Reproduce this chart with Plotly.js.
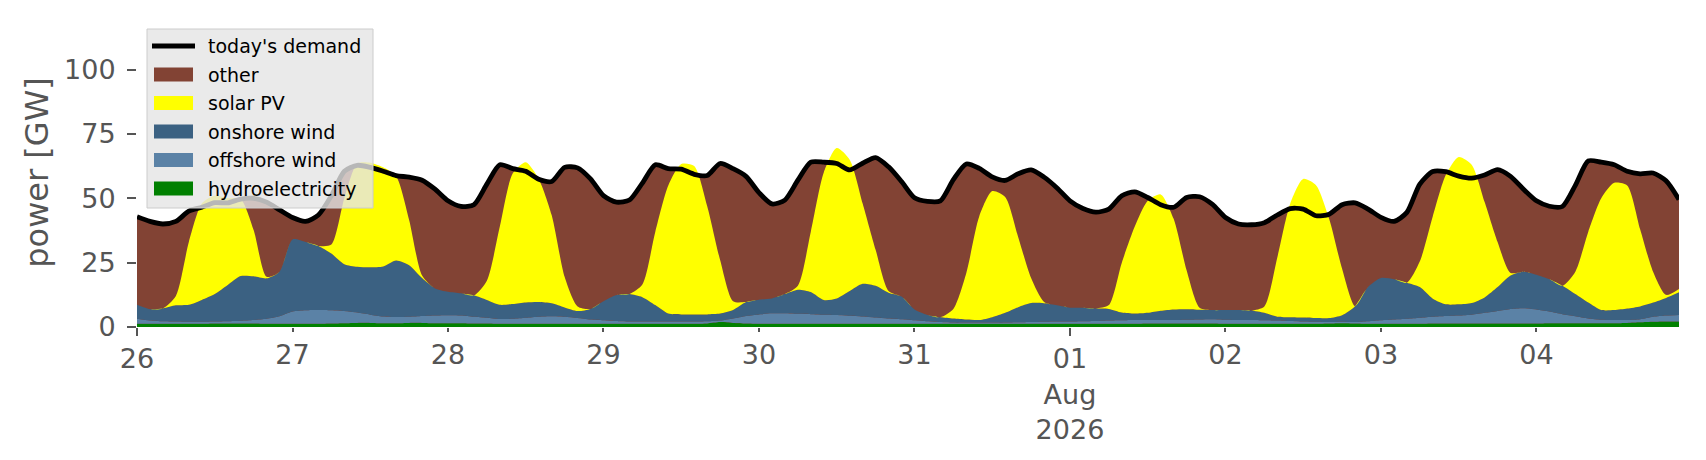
<!DOCTYPE html>
<html>
<head>
<meta charset="utf-8">
<script src="https://cdn.plot.ly/plotly-3.0.1.min.js"></script>
<style>html,body{margin:0;padding:0;background:#fff;}#chart{width:1706px;height:460px;}</style>
</head>
<body>
<div id="chart"></div>
<script>
// 2-hourly values, starting 2026-07-26 00:00
const demand = [
42.8,41.0,40.0,41.0,45.0,46.5,48.3,48.2,49.7,50.0,48.5,45.5,
42.5,41.0,43.5,51.0,60.5,62.8,62.0,60.5,58.8,58.2,57.0,53.5,
49.0,46.8,47.5,55.5,63.0,61.5,60.5,57.4,56.5,62.0,61.8,57.5,
51.0,48.5,49.3,55.9,63.0,61.5,61.3,59.3,58.8,63.5,61.5,58.5,
52.2,47.8,49.3,57.0,64.0,64.0,63.5,61.0,63.6,65.8,62.2,56.5,
50.2,48.8,49.0,57.2,63.3,61.6,58.3,56.9,59.5,61.0,58.2,54.0,
49.0,46.0,44.6,45.8,51.0,52.5,50.3,47.5,46.5,50.3,50.6,47.6,
42.5,40.0,39.7,40.5,43.5,46.0,45.8,43.2,43.8,47.5,48.2,45.8,
42.6,41.0,44.5,55.5,60.4,60.3,58.6,57.8,59.0,61.1,58.5,53.5,
49.0,46.9,46.8,55.0,64.5,64.0,63.0,60.5,59.5,59.8,56.8,49.5
];
const hydro = [
1.3,1.3,1.3,1.3,1.3,1.3,1.4,1.4,1.4,1.4,1.3,1.3,
1.3,1.3,1.3,1.4,1.5,1.6,1.6,1.5,1.5,1.6,1.6,1.5,
1.5,1.5,1.4,1.4,1.3,1.3,1.3,1.3,1.3,1.3,1.3,1.3,
1.3,1.3,1.3,1.3,1.3,1.3,1.3,1.3,1.4,1.9,1.6,1.4,
1.3,1.3,1.3,1.3,1.3,1.3,1.3,1.3,1.3,1.3,1.3,1.3,
1.3,1.3,1.3,1.3,1.3,1.3,1.3,1.3,1.3,1.3,1.3,1.3,
1.3,1.3,1.3,1.3,1.3,1.3,1.4,1.4,1.4,1.4,1.4,1.4,
1.3,1.3,1.3,1.3,1.3,1.3,1.3,1.3,1.4,1.5,1.4,1.3,
1.3,1.3,1.3,1.3,1.4,1.4,1.4,1.4,1.4,1.4,1.4,1.4,
1.4,1.5,1.5,1.5,1.5,1.5,1.5,1.6,1.8,2.0,2.1,2.1
];
const offshoreWind = [
1.9,1.2,0.9,0.8,0.7,0.7,0.7,0.8,1.0,1.3,1.9,2.9,
4.7,5.2,5.3,5.1,4.7,4.0,3.2,2.6,2.4,2.4,2.7,3.0,
3.1,3.0,2.6,2.2,1.8,1.9,2.3,2.7,2.9,2.7,2.2,1.6,
1.3,1.0,0.8,0.8,0.8,0.8,0.8,0.8,0.8,0.6,1.7,2.9,
3.6,4.0,4.0,3.8,3.7,3.5,3.4,3.1,2.8,2.4,2.0,1.7,
1.3,0.9,0.6,0.4,0.4,0.4,0.4,0.4,0.5,0.6,0.7,0.8,
0.8,0.9,1.0,1.2,1.3,1.4,1.3,1.3,1.3,1.4,1.5,1.6,
1.5,1.4,1.4,1.3,1.2,1.0,0.8,0.7,0.5,0.5,0.5,0.9,
1.3,1.6,1.9,2.3,2.6,2.9,3.1,3.4,4.1,4.8,5.6,5.9,
5.4,4.5,3.5,2.7,1.8,1.3,1.2,1.1,1.2,2.0,2.4,2.6
];
const onshoreWind = [
5.4,4.4,5.0,6.3,6.6,8.5,10.7,14.1,17.4,17.0,15.7,17.3,
28.0,26.5,24.9,22.0,18.2,17.8,18.4,19.4,21.9,20.0,14.7,10.5,
9.1,8.6,8.3,6.9,5.5,5.7,5.9,5.7,5.0,3.6,2.7,4.1,
7.4,10.1,10.7,9.5,6.4,3.1,2.8,2.8,2.7,2.7,3.3,5.4,
5.7,5.8,7.5,9.4,8.6,5.7,6.4,9.6,12.7,12.3,10.0,8.8,
4.2,2.5,1.9,1.6,1.2,1.0,2.1,3.8,5.9,7.4,7.2,6.3,
5.4,5.3,4.9,4.5,3.0,2.5,2.8,3.6,4.1,4.1,3.8,3.6,
3.8,3.9,3.7,2.9,1.5,1.5,1.6,1.5,1.6,2.6,6.2,13.3,
16.4,15.6,14.0,11.9,7.0,4.5,4.3,4.5,6.0,9.3,13.0,14.2,
13.5,12.5,11.0,8.6,6.2,3.8,3.9,4.5,5.0,5.5,6.8,8.8
];
const solarPV = [
0,0,0,3.6,24.4,37.5,38.2,33.7,29.9,18.0,0.6,0,
0,0,0,3.5,25.6,40.1,40.6,38.5,32.7,17.6,1.0,0,
0,0,0,7.5,30.4,50.8,54.5,47.8,34.3,11.9,1.8,0,
0,0,0,4.9,28.5,49.8,58.4,57.6,42.1,20.8,3.4,0,
0,0,0,1.5,23.4,49.5,58.4,51.0,31.2,14.0,0.7,0,
0,0,0,3.7,18.1,40.3,49.0,45.0,27.3,9.7,0.5,0,
0,0,0,1.5,19.4,33.8,43.5,45.2,35.2,15.1,0.8,0,
0,0,0,2.5,23.0,44.2,53.8,51.5,38.5,18.0,0,0,
0,0,0,10.0,32.0,50.2,57.2,53.7,37.0,17.5,1.0,0,
0,0,0,8.7,27.5,43.4,49.4,47.8,30.0,12.0,1.2,1.3
];
const majorTickDates = ['2026-07-26','2026-08-01'];
const majorTickLabels = ['26','01<br>Aug<br>2026'];
const minorTickDates = ['2026-07-27','2026-07-28','2026-07-29','2026-07-30','2026-07-31','2026-08-02','2026-08-03','2026-08-04'];
const minorTickLabels = ['27','28','29','30','31','02','03','04'];
const yTicks = [0,25,50,75,100];
const legendNames = ["today's demand", 'other', 'solar PV', 'onshore wind', 'offshore wind', 'hydroelectricity'];
const legendColors = ['#000000', '#824334', '#ffff00', '#3b6182', '#5b82a6', '#008000'];

function pad(n){return n<10?'0'+n:''+n;}
const start = Date.UTC(2026,6,26,0,0);
const times = demand.map((_, i) => {
  const d = new Date(start + i*2*3600*1000);
  return d.getUTCFullYear()+'-'+pad(d.getUTCMonth()+1)+'-'+pad(d.getUTCDate())+' '+pad(d.getUTCHours())+':00';
});
const xRange = [times[0], times[times.length-1]];

const FONT = 'DejaVu Sans, sans-serif';
const SHAPE = 'spline', SMOOTH = 0.7;
function area(name, y, color){
  return {x: times, y: y, name: name, type: 'scatter', mode: 'lines', stackgroup: 'one',
    line: {width: 0, color: color, shape: SHAPE, smoothing: SMOOTH}, fillcolor: color,
    showlegend: false, hoverinfo: 'skip'};
}
const traces = [
  {x: times, y: demand, name: 'other', type: 'scatter', mode: 'lines', fill: 'tozeroy',
   line: {width: 0, color: legendColors[1], shape: SHAPE, smoothing: SMOOTH}, fillcolor: legendColors[1],
   showlegend: false, hoverinfo: 'skip'},
  area('hydroelectricity', hydro, legendColors[5]),
  area('offshore wind', offshoreWind, legendColors[4]),
  area('onshore wind', onshoreWind, legendColors[3]),
  area('solar PV', solarPV, legendColors[2]),
  {x: times, y: demand, name: "today's demand", type: 'scatter', mode: 'lines',
   line: {width: 4.8, color: legendColors[0], shape: SHAPE, smoothing: SMOOTH}, showlegend: false, hoverinfo: 'skip'},
  {x: xRange, y: [null, null], xaxis: 'x2', yaxis: 'y', type: 'scatter', mode: 'lines',
   showlegend: false, hoverinfo: 'skip'}
];

// legend drawn in pixel layout positions converted to paper coordinates
const M = {l: 137, r: 27, t: 18, b: 133}, W = 1706, H = 460;
const PW = W - M.l - M.r, PH = H - M.t - M.b;
const px = v => (v - M.l) / PW;
const py = v => (H - M.b - v) / PH;
const shapes = [{type: 'rect', xref: 'paper', yref: 'paper', x0: px(147), x1: px(373), y0: py(29), y1: py(208),
  fillcolor: 'rgba(229,229,229,0.8)', line: {color: '#cccccc', width: 1}, layer: 'above'}];
const annotations = [];
legendNames.forEach((name, i) => {
  const cy = 46 + i * 28.5;
  if (i === 0) {
    shapes.push({type: 'line', xref: 'paper', yref: 'paper', x0: px(152), x1: px(195), y0: py(cy), y1: py(cy),
      line: {color: legendColors[i], width: 5}, layer: 'above'});
  } else {
    shapes.push({type: 'rect', xref: 'paper', yref: 'paper', x0: px(154), x1: px(193), y0: py(cy - 7), y1: py(cy + 7),
      fillcolor: legendColors[i], line: {width: 0}, layer: 'above'});
  }
  annotations.push({xref: 'paper', yref: 'paper', x: px(206), y: py(cy), xanchor: 'left', yanchor: 'middle',
    text: name, showarrow: false, font: {family: FONT, size: 19, color: '#000000'}});
});

const layout = {
  width: W, height: H,
  margin: M,
  paper_bgcolor: '#ffffff', plot_bgcolor: '#ffffff',
  font: {family: FONT, color: '#555555', size: 27},
  showlegend: false,
  shapes: shapes, annotations: annotations,
  xaxis: {type: 'date', range: xRange, showgrid: false, zeroline: false, showline: false,
    tickmode: 'array', tickvals: majorTickDates, ticktext: majorTickLabels,
    ticks: 'outside', ticklen: 8, tickwidth: 2, tickcolor: '#555555',
    tickfont: {family: FONT, size: 27, color: '#555555'}},
  xaxis2: {type: 'date', range: xRange, overlaying: 'x', anchor: 'y', side: 'bottom',
    showgrid: false, zeroline: false, showline: false,
    tickmode: 'array', tickvals: minorTickDates, ticktext: minorTickLabels,
    ticks: 'outside', ticklen: 4, tickwidth: 2, tickcolor: '#555555',
    tickfont: {family: FONT, size: 27, color: '#555555'}},
  yaxis: {range: [0, 120], showgrid: false, zeroline: false, showline: false,
    tickmode: 'array', tickvals: yTicks, ticks: 'outside', ticklen: 9, tickwidth: 2,
    tickcolor: '#555555', ticklabelstandoff: 6,
    tickfont: {family: FONT, size: 27, color: '#555555'},
    title: {text: 'power [GW]', font: {family: FONT, size: 32, color: '#555555'}, standoff: 5}}
};
Plotly.newPlot('chart', traces, layout, {staticPlot: true, displayModeBar: false});
</script>
</body>
</html>
